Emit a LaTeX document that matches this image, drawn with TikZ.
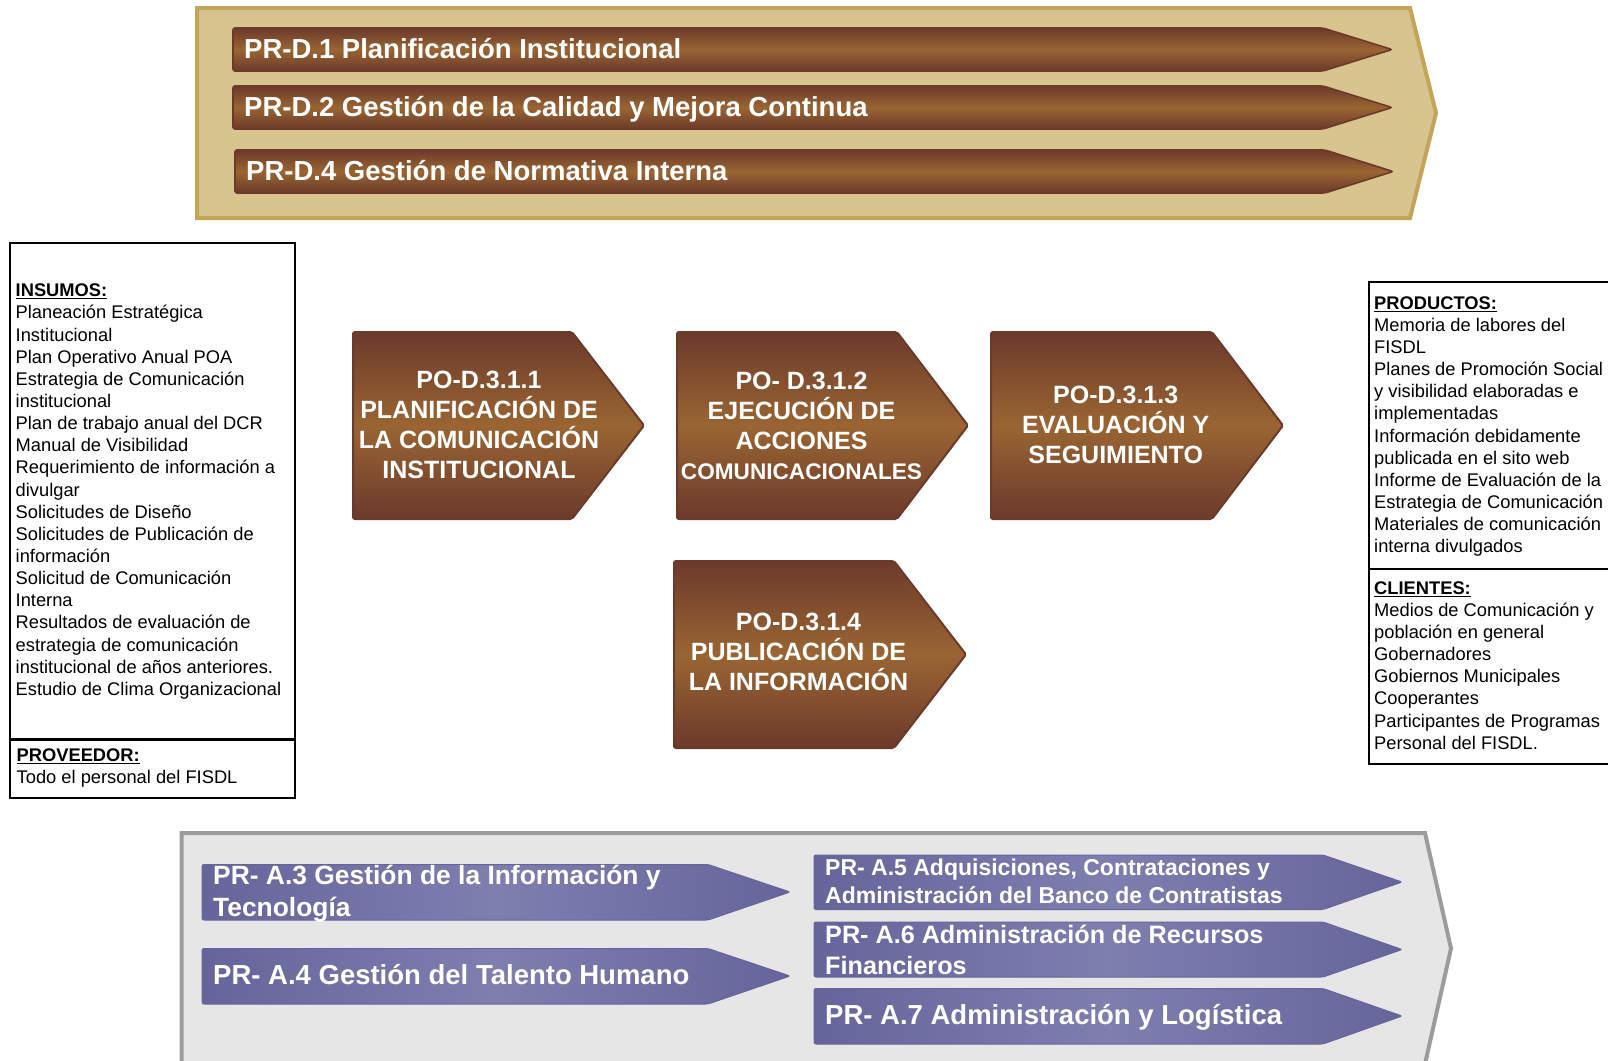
\documentclass[tikz,border=0pt]{standalone}
\usepackage{fontspec}
\setmainfont{Liberation Sans}

\definecolor{goldfill}{HTML}{D8C48F}
\definecolor{goldline}{HTML}{C4A458}
\definecolor{brownedge}{HTML}{6B3A2B}
\definecolor{brownmid}{HTML}{9A6532}
\definecolor{grayfill}{HTML}{E6E6E6}
\definecolor{grayline}{HTML}{9C9C9C}
\definecolor{purpleedge}{HTML}{65659B}
\definecolor{purplemid}{HTML}{7E7EAF}

% fixed line pitch: never let tall accented capitals push lines apart
\newcommand\fixedpitch{\lineskiplimit=-100pt\relax}
\newcommand\barfont{\bfseries\fontsize{27.5}{33}\selectfont}
\newcommand\stepfont{\bfseries\fontsize{25}{30.1}\selectfont\fixedpitch}
\newcommand\listfont{\fontsize{18.3}{22.15}\selectfont\fixedpitch}

\begin{document}
\begin{tikzpicture}[x=1pt,y=-1pt,
  goldband/.style={fill=goldfill,draw=goldline,line width=4pt,line join=miter},
  grayband/.style={fill=grayfill,draw=grayline,line width=4pt,line join=miter},
  brownbar/.style={draw=brownedge,line width=1.6pt,rounded corners=2pt,
    top color=brownedge,bottom color=brownedge,middle color=brownmid},
  stepbox/.style={draw=brownedge,line width=2pt,rounded corners=2pt,
    top color=brownedge,bottom color=brownedge,middle color=brownmid},
  purplebar/.style={draw=purpleedge,line width=1pt,rounded corners=2pt,
    left color=purpleedge,right color=purpleedge,middle color=purplemid},
  infobox/.style={draw=black,line width=2.6pt},
  bartext/.style={text=white,inner sep=0pt,font=\barfont},
  steptext/.style={text=white,inner sep=0pt,align=center,font=\stepfont,anchor=north},
  listtext/.style={text=black,inner sep=0pt,align=left,font=\listfont,anchor=north west},
]
\clip (0,0) rectangle (1608,1060);
\fill[white] (0,0) rectangle (1608,1060);

% strategic processes band
\draw[goldband] (197,8) -- (1410,8) -- (1436,113) -- (1410,218) -- (197,218) -- cycle;
\draw[brownbar] (233,28) -- (1323,28) -- (1392,49.5) -- (1323,71) -- (233,71) -- cycle;
\draw[brownbar] (233,86) -- (1323,86) -- (1392,107.5) -- (1323,129) -- (233,129) -- cycle;
\draw[brownbar] (235,150) -- (1325,150) -- (1393,171.5) -- (1325,193) -- (235,193) -- cycle;
\node[bartext,anchor=base west] (d1) at (244,58.8) {PR-D.1 Planificación Institucional};
\node[bartext,anchor=base west] (d2) at (244,116.8) {PR-D.2 Gestión de la Calidad y Mejora Continua};
\node[bartext,anchor=base west] (d4) at (246,180.8) {PR-D.4 Gestión de Normativa Interna};

% inputs and supplier
\draw[infobox] (10,243) rectangle (295,739.5);
\draw[infobox] (10,739.5) rectangle (295,798);
\node[listtext] (insumos) at (15.5,281) {\strut\underline{\textbf{INSUMOS:}}\\
Planeación Estratégica\\
Institucional\\
Plan Operativo Anual POA\\
Estrategia de Comunicación\\
institucional\\
Plan de trabajo anual del DCR\\
Manual de Visibilidad\\
Requerimiento de información a\\
divulgar\\
Solicitudes de Diseño\\
Solicitudes de Publicación de\\
información\\
Solicitud de Comunicación\\
Interna\\
Resultados de evaluación de\\
estrategia de comunicación\\
institucional de años anteriores.\\
Estudio de Clima Organizacional\strut};
\node[listtext] (proveedor) at (16.5,746) {\strut\underline{\textbf{PROVEEDOR:}}\\
Todo el personal del FISDL\strut};

% products and clients
\draw[infobox] (1369,282) rectangle (1614,569);
\draw[infobox] (1369,569) rectangle (1614,764);
\node[listtext] (productos) at (1374,293.5) {\strut\underline{\textbf{PRODUCTOS:}}\\
Memoria de labores del\\
FISDL\\
Planes de Promoción Social\\
y visibilidad elaboradas e\\
implementadas\\
Información debidamente\\
publicada en el sito web\\
Informe de Evaluación de la\\
Estrategia de Comunicación\\
Materiales de comunicación\\
interna divulgados\strut};
\node[listtext] (clientes) at (1374,578.5) {\strut\underline{\textbf{CLIENTES:}}\\
Medios de Comunicación y\\
población en general\\
Gobernadores\\
Gobiernos Municipales\\
Cooperantes\\
Participantes de Programas\\
Personal del FISDL.\strut};

% operative procedures
\draw[stepbox] (353,332) -- (572,332) -- (644,425.5) -- (572,519) -- (353,519) -- cycle;
\draw[stepbox] (677,332) -- (897,332) -- (968,425.5) -- (897,519) -- (677,519) -- cycle;
\draw[stepbox] (991,332) -- (1212,332) -- (1283,425.5) -- (1212,519) -- (991,519) -- cycle;
\draw[stepbox] (674,561) -- (894,561) -- (966,654.5) -- (894,748) -- (674,748) -- cycle;
\node[steptext] (p1) at (479,366.9) {\strut PO-D.3.1.1\\PLANIFICACIÓN DE\\LA COMUNICACIÓN\\INSTITUCIONAL\strut};
\node[steptext] (p2) at (801.5,367.9) {\strut PO- D.3.1.2\\EJECUCIÓN DE\\ACCIONES\\{\fontsize{22.6}{30.1}\selectfont COMUNICACIONALES\strut}};
\node[steptext] (p3) at (1115.7,381.9) {\strut PO-D.3.1.3\\EVALUACIÓN Y\\SEGUIMIENTO\strut};
\node[steptext] (p4) at (798.5,608.9) {\strut PO-D.3.1.4\\PUBLICACIÓN DE\\LA INFORMACIÓN\strut};

% support processes band
\draw[grayband] (181.5,833) -- (1425,833) -- (1451,948.5) -- (1425,1064) -- (181.5,1064) -- cycle;
\draw[purplebar] (202,864.5) -- (708,864.5) -- (790,892) -- (708,920) -- (202,920) -- cycle;
\draw[purplebar] (202,948.5) -- (708,948.5) -- (790,976) -- (708,1004) -- (202,1004) -- cycle;
\draw[purplebar] (814,855) -- (1323,855) -- (1402,882) -- (1323,909.5) -- (814,909.5) -- cycle;
\draw[purplebar] (814,922) -- (1323,922) -- (1402,949.5) -- (1323,977) -- (814,977) -- cycle;
\draw[purplebar] (814,988.5) -- (1323,988.5) -- (1402,1016) -- (1323,1044) -- (814,1044) -- cycle;
\node[text=white,inner sep=0pt,align=left,anchor=north west,font=\bfseries\fontsize{26.4}{31.5}\selectfont\fixedpitch] (a3) at (213,862.4)
  {\strut PR- A.3 Gestión de la Información y\\Tecnología\strut};
\node[bartext,anchor=base west] (a4) at (213,984.8) {PR- A.4 Gestión del Talento Humano};
\node[text=white,inner sep=0pt,align=left,anchor=north west,font=\bfseries\fontsize{23}{27.4}\selectfont\fixedpitch] (a5) at (825,856.6)
  {\strut PR- A.5 Adquisiciones, Contrataciones y\\Administración del Banco de Contratistas\strut};
\node[text=white,inner sep=0pt,align=left,anchor=north west,font=\bfseries\fontsize{25.2}{31}\selectfont\fixedpitch] (a6) at (825,921.3)
  {\strut PR- A.6 Administración de Recursos\\Financieros\strut};
\node[bartext,anchor=base west] (a7) at (825,1024.8) {PR- A.7 Administración y Logística};
\end{tikzpicture}
\end{document}
